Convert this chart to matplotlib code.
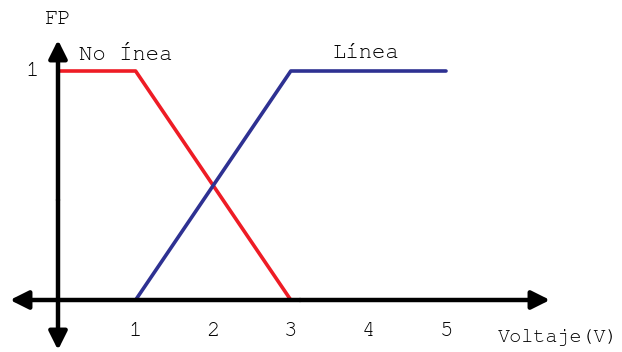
import matplotlib
matplotlib.use("Agg")
import matplotlib.pyplot as plt
from matplotlib import font_manager

no_linea_x = [0, 1, 3]
no_linea_y = [1, 1, 0]
linea_x = [1, 3, 5]
linea_y = [0, 1, 1]
xticks = [1, 2, 3, 4, 5]
xtick_labels = ["1", "2", "3", "4", "5"]

names = {f.name for f in font_manager.fontManager.ttflist}
mono = "DejaVu Sans Mono"
for cand in ["Courier New", "Nimbus Mono PS", "FreeMono", "Courier", "Liberation Mono", "DejaVu Sans Mono"]:
    if cand in names:
        mono = cand
        break

W, H = 622, 352
fig = plt.figure(figsize=(W / 100, H / 100), dpi=100)
ax = fig.add_axes([0, 0, 1, 1])
x0px, xunit = 58, 77.6
y0px, yunit = 300, 229
ax.set_xlim((0 - x0px) / xunit, (W - x0px) / xunit)
ax.set_ylim(-(H - y0px) / yunit, y0px / yunit)
ax.axis("off")

ax.plot(no_linea_x, no_linea_y, color="#EE1C25", lw=2.6, solid_capstyle="butt", zorder=2)
ax.plot(linea_x, linea_y, color="#2E3192", lw=2.6, solid_capstyle="round", zorder=2)

def px2x(p):
    return (p - x0px) / xunit

def px2y(p):
    return (y0px - p) / yunit

arrow = dict(arrowstyle="-|>,head_length=1.1,head_width=0.55", color="black", lw=3.2, shrinkA=0, shrinkB=0)
ax.annotate("", xy=(px2x(550), 0), xytext=(px2x(300), 0), arrowprops=arrow, zorder=3)
ax.annotate("", xy=(px2x(10), 0), xytext=(px2x(300), 0), arrowprops=arrow, zorder=3)
ax.annotate("", xy=(0, px2y(40)), xytext=(0, px2y(200)), arrowprops=arrow, zorder=3)
ax.annotate("", xy=(0, px2y(350)), xytext=(0, px2y(200)), arrowprops=arrow, zorder=3)

fs = 16
for t, lab in zip(xticks, xtick_labels):
    ax.text(t, px2y(331), lab, ha="center", va="center", family=mono, fontsize=fs)

ax.text(px2x(32), 1, "1", ha="center", va="center", family=mono, fontsize=fs)
ax.text(px2x(57), px2y(19), "FP", ha="center", va="center", family=mono, fontsize=fs)
ax.text(px2x(126), px2y(55), "No Ínea", ha="center", va="center", family=mono, fontsize=fs)
ax.text(px2x(366), px2y(53), "Línea", ha="center", va="center", family=mono, fontsize=fs)
ax.text(px2x(558), px2y(338), "Voltaje(V)", ha="center", va="center", family=mono, fontsize=14.5)

fig.savefig("out.png", dpi=100)
